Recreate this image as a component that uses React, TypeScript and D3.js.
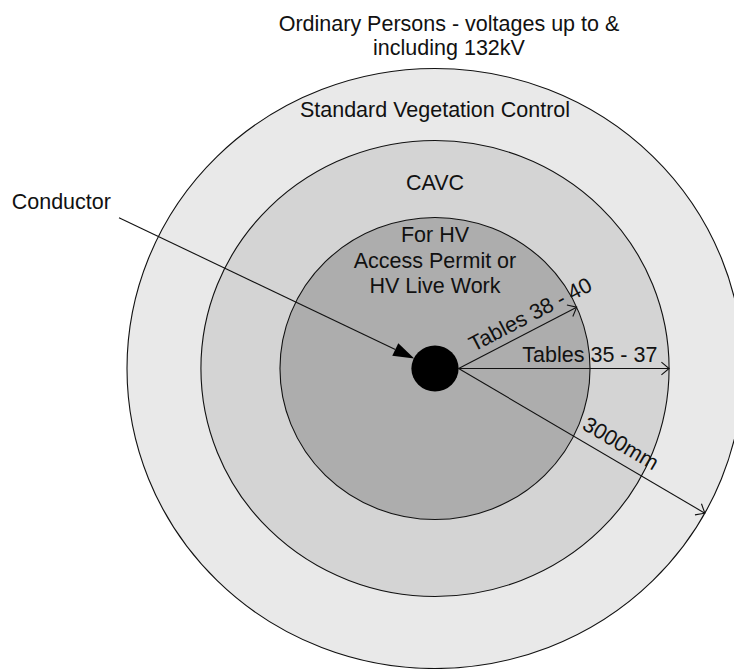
import React from "react";
import * as d3 from "d3";

// ---- data ----
const titleLines: string[] = ["Ordinary Persons - voltages up to &", "including 132kV"];
const zoneLabelLines: string[][] = [
  ["For HV", "Access Permit or", "HV Live Work"],
  ["CAVC"],
  ["Standard Vegetation Control"],
];
const zoneExtentMm: number[] = [1510, 2280, 3000];
const conductorLabel = "Conductor";
const conductorRadiusMm = 230;
const dimensionLabels: string[] = ["Tables 38 - 40", "Tables 35 - 37", "3000mm"];
const dimensionZone: number[] = [0, 1, 2];
const dimensionAngleDeg: number[] = [-23.4, 0, 28.2];

// ---- styles / layout ----
const W = 734;
const H = 669;
const CX = 435;
const CY = 368.5;
const FONT = "'Liberation Sans', Arial, sans-serif";
const FS = 21.5;
const zoneFill = ["#adadad", "#d4d4d4", "#e9e9e9"];
const zoneLabelTopOffset = [24.5, 49.5, 48.5];
const lineGap = 25.5;
const dimTextAlong = [21, 63.7, 136];
const dimTextPerp = [7.7, 6.3, 10.3];

export default function App() {
  const rx = d3.scaleLinear().domain([0, 3000]).range([0, 308]);
  const ry = d3.scaleLinear().domain([0, 3000]).range([0, 300]);

  const dotRx = rx(conductorRadiusMm);
  const dotRy = ry(conductorRadiusMm);

  const ellipsePoint = (zone: number, deg: number) => {
    const a = (deg * Math.PI) / 180;
    const ax = rx(zoneExtentMm[zone]);
    const by = ry(zoneExtentMm[zone]);
    const r = 1 / Math.sqrt((Math.cos(a) ** 2) / (ax * ax) + (Math.sin(a) ** 2) / (by * by));
    return [CX + r * Math.cos(a), CY + r * Math.sin(a)];
  };

  const zonesDrawOrder = d3.range(zoneExtentMm.length).reverse();

  // conductor leader
  const cStart: [number, number] = [119, 217.7];
  const dvx = CX - cStart[0];
  const dvy = CY - cStart[1];
  const dl = Math.hypot(dvx, dvy);
  const ux = dvx / dl;
  const uy = dvy / dl;
  const tip: [number, number] = [CX - ux * dotRy, CY - uy * dotRy];
  const headLen = 21;
  const headHalf = 7;
  const base: [number, number] = [tip[0] - ux * headLen, tip[1] - uy * headLen];
  const headPath = d3.path();
  headPath.moveTo(tip[0], tip[1]);
  headPath.lineTo(base[0] - uy * headHalf, base[1] + ux * headHalf);
  headPath.lineTo(base[0] + uy * headHalf, base[1] - ux * headHalf);
  headPath.closePath();

  return (
    <svg
      width={W}
      height={H}
      style={{ position: "absolute", left: 0, top: 0, background: "#fff" }}
      fontFamily={FONT}
    >
      {zonesDrawOrder.map((i) => (
        <ellipse
          key={"z" + i}
          cx={CX}
          cy={CY}
          rx={rx(zoneExtentMm[i])}
          ry={ry(zoneExtentMm[i])}
          fill={zoneFill[i]}
          stroke="#111"
          strokeWidth={1.1}
        />
      ))}

      {zoneLabelLines.map((lines, i) =>
        lines.map((t, j) => (
          <text
            key={"zl" + i + "-" + j}
            x={CX}
            y={CY - ry(zoneExtentMm[i]) + zoneLabelTopOffset[i] + j * lineGap}
            textAnchor="middle"
            fontSize={FS}
            fill="#111"
          >
            {t}
          </text>
        ))
      )}

      {titleLines.map((t, j) => (
        <text key={"t" + j} x={449} y={31 + j * 24} textAnchor="middle" fontSize={FS} fill="#111">
          {t}
        </text>
      ))}

      {/* conductor */}
      <line x1={cStart[0]} y1={cStart[1]} x2={base[0]} y2={base[1]} stroke="#111" strokeWidth={1.1} />
      <path d={headPath.toString()} fill="#000" />
      <text x={11.7} y={209.3} fontSize={FS} fill="#111">
        {conductorLabel}
      </text>

      {/* dimension lines */}
      {dimensionLabels.map((lab, i) => {
        const sx = CX + dotRx;
        const sy = CY;
        const [ex, ey] = ellipsePoint(dimensionZone[i], dimensionAngleDeg[i]);
        const ang = Math.atan2(ey - sy, ex - sx);
        const c = Math.cos(ang);
        const s = Math.sin(ang);
        const aLen = 10;
        const aSpread = (40 * Math.PI) / 180;
        const a1 = [ex - aLen * Math.cos(ang - aSpread), ey - aLen * Math.sin(ang - aSpread)];
        const a2 = [ex - aLen * Math.cos(ang + aSpread), ey - aLen * Math.sin(ang + aSpread)];
        const tx = sx + c * dimTextAlong[i] + s * dimTextPerp[i];
        const ty = sy + s * dimTextAlong[i] - c * dimTextPerp[i];
        return (
          <g key={"d" + i}>
            <line x1={sx} y1={sy} x2={ex} y2={ey} stroke="#111" strokeWidth={1.1} />
            <polyline
              points={`${a1[0]},${a1[1]} ${ex},${ey} ${a2[0]},${a2[1]}`}
              fill="none"
              stroke="#111"
              strokeWidth={1.1}
            />
            <text
              transform={`translate(${tx},${ty}) rotate(${(ang * 180) / Math.PI})`}
              fontSize={FS}
              fill="#111"
            >
              {lab}
            </text>
          </g>
        );
      })}

      {/* conductor dot */}
      <ellipse cx={CX} cy={CY} rx={dotRx} ry={dotRy} fill="#000" />
    </svg>
  );
}
